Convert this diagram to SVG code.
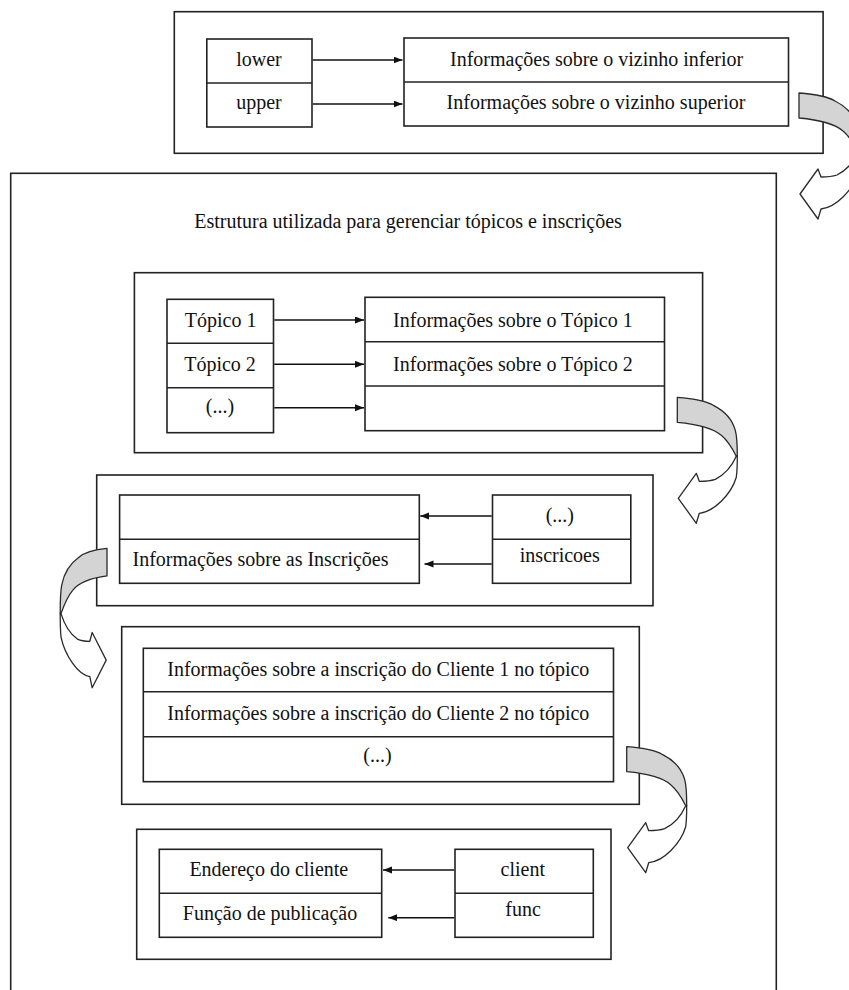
<svg xmlns="http://www.w3.org/2000/svg" xmlns:xlink="http://www.w3.org/1999/xlink" width="849" height="990" viewBox="0 0 849 990">
<style>
.box{fill:none;stroke:#222;stroke-width:1.6}
.cell{fill:#fff;stroke:#222;stroke-width:1.6}
.div{stroke:#222;stroke-width:1.6}
.t{font-size:20px;fill:#111;text-anchor:middle}
.tl{text-anchor:start}
.ln{stroke:#111;stroke-width:1.5;fill:none;marker-end:url(#ah)}
.gray{fill:#d4d4d4;stroke:#2a2a2a;stroke-width:1.3;vector-effect:non-scaling-stroke;stroke-linejoin:round}
.white{fill:#fff;stroke:#2a2a2a;stroke-width:1.3;vector-effect:non-scaling-stroke;stroke-linejoin:round}
</style>
<defs>
<marker id="ah" markerUnits="userSpaceOnUse" markerWidth="10" markerHeight="8" refX="9" refY="3.5" orient="auto">
<path d="M0,0 L9,3.5 L0,7 Z" fill="#111"/>
</marker>
<g id="curved">
<path class="gray" d="M0,0 C14,1 28,3 36,8 C46,13 55,22 58,33 C60,40 60,50 60,59 L59,59 C54,49 50,43 44,38 C36,31 22,27 0,25 Z"/>
<path class="white" d="M60,59 L59,59 C55,68 48,77 38,82 C32,84 27,84 22,84 L19,76 L1,101 L19,126 L22,116 C30,115 38,110 44,104 C52,96 57,87 59,80 C60,73 60,66 60,59 Z"/>
</g>
</defs>
<rect width="849" height="990" fill="#fff"/>

<g id="top-section">
<rect class="box" x="174.3" y="11.7" width="648.8" height="141.6"/>
</g>
<g id="lower-upper">
<rect class="cell" x="206.8" y="39" width="105.2" height="88"/>
<line class="div" x1="206.8" y1="83" x2="312" y2="83"/>
<text class="t" font-family="Liberation Serif" x="259" y="66">lower</text>
<text class="t" font-family="Liberation Serif" x="259" y="109">upper</text>
</g>
<g id="neighbour-info">
<rect class="cell" x="404" y="38" width="384.5" height="88"/>
<line class="div" x1="404" y1="82" x2="788.5" y2="82"/>
<text class="t" font-family="Liberation Serif" x="596.6" y="66">Informações sobre o vizinho inferior</text>
<text class="t" font-family="Liberation Serif" x="596" y="109">Informações sobre o vizinho superior</text>
</g>

<g id="main-structure">
<rect class="box" x="10.7" y="173.3" width="765.6" height="840"/>
<text class="t" font-family="Liberation Serif" x="408" y="228">Estrutura utilizada para gerenciar tópicos e inscrições</text>
</g>

<g id="topic-section">
<rect class="box" x="134.4" y="272.7" width="568.2" height="180"/>
</g>
<g id="topic-list">
<rect class="cell" x="167" y="299.3" width="106.5" height="133.4"/>
<line class="div" x1="167" y1="343.3" x2="273.5" y2="343.3"/>
<line class="div" x1="167" y1="387.7" x2="273.5" y2="387.7"/>
<text class="t" font-family="Liberation Serif" x="220.6" y="327">Tópico 1</text>
<text class="t" font-family="Liberation Serif" x="220" y="371">Tópico 2</text>
<text class="t" font-family="Liberation Serif" x="220" y="413">(...)</text>
</g>
<g id="topic-info">
<rect class="cell" x="365" y="297.3" width="299.5" height="133.4"/>
<line class="div" x1="365" y1="341.7" x2="664.5" y2="341.7"/>
<line class="div" x1="365" y1="386" x2="664.5" y2="386"/>
<text class="t" font-family="Liberation Serif" x="512.9" y="327">Informações sobre o Tópico 1</text>
<text class="t" font-family="Liberation Serif" x="512.9" y="371">Informações sobre o Tópico 2</text>
</g>

<g id="inscriptions-section">
<rect class="box" x="96.7" y="475" width="556.3" height="130.7"/>
</g>
<g id="inscriptions-info">
<rect class="cell" x="119.6" y="495" width="299.7" height="88.3"/>
<line class="div" x1="119.6" y1="539.3" x2="419.3" y2="539.3"/>
<text class="t tl" font-family="Liberation Serif" x="132.5" y="566">Informações sobre as Inscrições</text>
</g>
<g id="inscriptions-list">
<rect class="cell" x="492.5" y="495" width="138.3" height="88.3"/>
<line class="div" x1="492.5" y1="539.3" x2="630.8" y2="539.3"/>
<text class="t" font-family="Liberation Serif" x="559.8" y="522">(...)</text>
<text class="t" font-family="Liberation Serif" x="559.8" y="562">inscricoes</text>
</g>

<g id="client-section">
<rect class="box" x="121.7" y="626.7" width="517.6" height="177.6"/>
</g>
<g id="client-subscriptions">
<rect class="cell" x="143.3" y="648.3" width="470.2" height="133.4"/>
<line class="div" x1="143.3" y1="691.7" x2="613.5" y2="691.7"/>
<line class="div" x1="143.3" y1="736.7" x2="613.5" y2="736.7"/>
<text class="t" font-family="Liberation Serif" x="378.3" y="676">Informações sobre a inscrição do Cliente 1 no tópico</text>
<text class="t" font-family="Liberation Serif" x="378.3" y="720">Informações sobre a inscrição do Cliente 2 no tópico</text>
<text class="t" font-family="Liberation Serif" x="377.5" y="762">(...)</text>
</g>

<g id="final-section">
<rect class="box" x="136.7" y="829.3" width="474.3" height="130"/>
</g>
<g id="client-info">
<rect class="cell" x="159.3" y="849.3" width="222.4" height="88"/>
<line class="div" x1="159.3" y1="893.3" x2="381.7" y2="893.3"/>
<text class="t" font-family="Liberation Serif" x="268.8" y="876">Endereço do cliente</text>
<text class="t" font-family="Liberation Serif" x="270" y="920">Função de publicação</text>
</g>
<g id="client-fields">
<rect class="cell" x="455" y="849.3" width="138.3" height="88"/>
<line class="div" x1="455" y1="893.3" x2="593.3" y2="893.3"/>
<text class="t" font-family="Liberation Serif" x="522.8" y="876">client</text>
<text class="t" font-family="Liberation Serif" x="523" y="916">func</text>
</g>

<g id="connectors">
<line class="ln" x1="312.8" y1="60" x2="402.5" y2="60"/>
<line class="ln" x1="312.8" y1="104" x2="402.5" y2="104"/>
<line class="ln" x1="274.3" y1="320" x2="364" y2="320"/>
<line class="ln" x1="274.3" y1="364.3" x2="364" y2="364.3"/>
<line class="ln" x1="274.3" y1="407.7" x2="364" y2="407.7"/>
<line class="ln" x1="491.7" y1="516" x2="420.3" y2="516"/>
<line class="ln" x1="491.7" y1="564" x2="424.5" y2="564"/>
<line class="ln" x1="454.2" y1="870" x2="383" y2="870"/>
<line class="ln" x1="454.2" y1="917.7" x2="388.3" y2="917.7"/>
<use xlink:href="#curved" transform="translate(799,93)"/>
<use xlink:href="#curved" transform="translate(677.3,397.3)"/>
<use xlink:href="#curved" transform="translate(107,548.3) scale(-0.78,1.107)"/>
<use xlink:href="#curved" transform="translate(626.7,746.7)"/>
</g>
</svg>
